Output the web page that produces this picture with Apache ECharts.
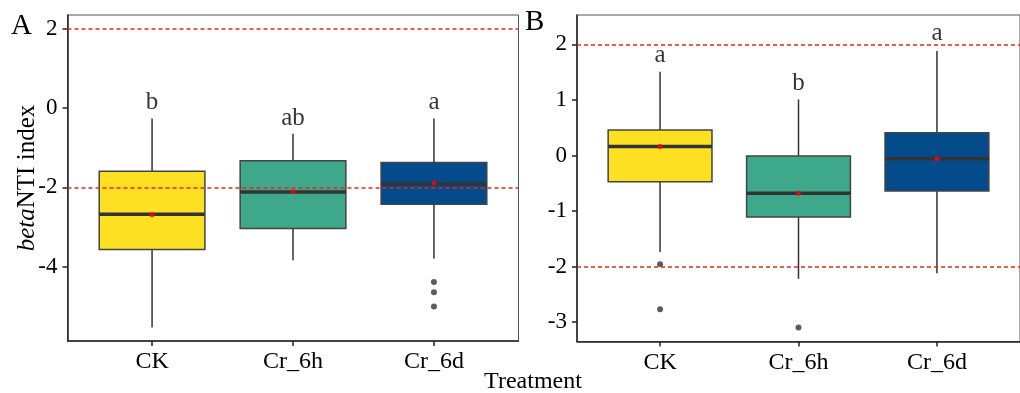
<!DOCTYPE html>
<html>
<head>
<meta charset="utf-8">
<script src="https://cdn.jsdelivr.net/npm/echarts@6/dist/echarts.min.js"></script>
<style>
  html, body { margin: 0; padding: 0; background: #fff; }
  #chart { width: 1020px; height: 393px; }
</style>
</head>
<body>
<div id="chart"></div>
<script>
// categories and tick values
var categories = ['CK', 'Cr_6h', 'Cr_6d'];
var boxColors = ['#FDE021', '#3DA88A', '#034B8A'];
var ticksA = [-4, -2, 0, 2];
var ticksB = [-3, -2, -1, 0, 1, 2];
var refLines = [2, -2];

// panel A: [low whisker, q1, median, q3, high whisker]
var statsA = [
    [-5.54, -3.57, -2.68, -1.595, -0.26],
    [-3.84, -3.04, -2.12, -1.33, -0.65],
    [-3.80, -2.43, -1.91, -1.375, -0.26]
];
var meansA = [-2.69, -2.11, -1.89];
var outliersA = [[], [], [-4.39, -4.65, -5.01]];
var lettersA = ['b', 'ab', 'a'];
var letterPosA = [0.13, -0.26, 0.15];

// panel B
var statsB = [
    [-1.74, -0.475, 0.16, 0.46, 1.51],
    [-2.22, -1.11, -0.68, -0.01, 1.01],
    [-2.12, -0.64, -0.06, 0.41, 1.88]
];
var meansB = [0.16, -0.68, -0.06];
var outliersB = [[-1.96, -2.77], [-3.10], []];
var lettersB = ['a', 'b', 'a'];
var letterPosB = [1.80, 1.30, 2.19];

var font = "'Liberation Serif', 'DejaVu Serif', serif";

function renderBox(params, api) {
    var x = api.value(0);
    var pLow = api.coord([x, api.value(1)]);
    var pQ1 = api.coord([x, api.value(2)]);
    var pMed = api.coord([x, api.value(3)]);
    var pQ3 = api.coord([x, api.value(4)]);
    var pHigh = api.coord([x, api.value(5)]);
    var half = api.size([0.75, 0])[0] / 2;
    var line = { stroke: '#333', lineWidth: 1.5 };
    return {
        type: 'group',
        children: [
            { type: 'line', shape: { x1: pHigh[0], y1: pHigh[1], x2: pQ3[0], y2: pQ3[1] }, style: line },
            { type: 'line', shape: { x1: pLow[0], y1: pLow[1], x2: pQ1[0], y2: pQ1[1] }, style: line },
            {
                type: 'rect',
                shape: { x: pQ3[0] - half, y: pQ3[1], width: half * 2, height: pQ1[1] - pQ3[1] },
                style: { fill: boxColors[params.dataIndex], stroke: '#444', lineWidth: 1.5 }
            },
            { type: 'line', shape: { x1: pMed[0] - half, y1: pMed[1], x2: pMed[0] + half, y2: pMed[1] },
              style: { stroke: '#333', lineWidth: 3.5 } }
        ]
    };
}

function panelSeries(idx, stats, means, outliers, letters, letterPos) {
    var outData = [];
    outliers.forEach(function (arr, i) {
        arr.forEach(function (v) { outData.push([i + 1, v]); });
    });
    return [
        {
            type: 'custom',
            xAxisIndex: idx, yAxisIndex: idx,
            renderItem: renderBox,
            encode: { x: 0, y: [1, 2, 3, 4, 5] },
            data: stats.map(function (s, i) { return [i + 1].concat(s); }),
            z: 2
        },
        {
            type: 'scatter',
            xAxisIndex: idx, yAxisIndex: idx,
            symbolSize: 6,
            itemStyle: { color: '#333' },
            data: outData,
            z: 3
        },
        {
            type: 'scatter',
            xAxisIndex: idx, yAxisIndex: idx,
            symbolSize: 5,
            itemStyle: { color: '#FF0000' },
            data: means.map(function (v, i) { return [i + 1, v]; }),
            z: 4
        },
        {
            type: 'scatter',
            xAxisIndex: idx, yAxisIndex: idx,
            symbolSize: 0,
            silent: true,
            label: {
                show: true,
                position: 'inside',
                fontFamily: font,
                fontSize: 25,
                color: '#000',
                formatter: function (p) { return letters[p.dataIndex]; }
            },
            data: letterPos.map(function (v, i) { return [i + 1, v]; }),
            markLine: {
                silent: true,
                symbol: 'none',
                label: { show: false },
                lineStyle: { color: '#E8261F', type: [4, 3], width: 1.5 },
                data: refLines.map(function (v) { return { yAxis: v }; })
            },
            z: 5
        }
    ];
}

function xAxisFor(idx) {
    return {
        type: 'value',
        gridIndex: idx,
        min: 0.4,
        max: 3.6,
        axisLine: { show: true, onZero: false, lineStyle: { color: '#222', width: 1.5 } },
        axisTick: { show: true, length: 5, customValues: [1, 2, 3], lineStyle: { color: '#222', width: 1.5 } },
        axisLabel: {
            customValues: [1, 2, 3],
            margin: 9,
            fontFamily: font,
            fontSize: 24,
            color: '#000',
            formatter: function (v) { return categories[Math.round(v) - 1]; }
        },
        splitLine: { show: false }
    };
}

function yAxisFor(idx, min, max, ticks) {
    return {
        type: 'value',
        gridIndex: idx,
        min: min,
        max: max,
        axisLine: { show: true, onZero: false, lineStyle: { color: '#222', width: 1.5 } },
        axisTick: { show: true, length: 5, customValues: ticks, lineStyle: { color: '#222', width: 1.5 } },
        axisLabel: {
            customValues: ticks,
            margin: 10,
            fontFamily: font,
            fontSize: 23,
            color: '#000'
        },
        splitLine: { show: false }
    };
}

var chart = echarts.init(document.getElementById('chart'));

var yA = yAxisFor(0, -5.88, 2.35, ticksA);
yA.name = '{it|beta}NTI index';
yA.nameLocation = 'middle';
yA.nameGap = 28;
yA.nameMoveOverlap = false;
yA.nameTextStyle = {
    fontFamily: font,
    fontSize: 25,
    color: '#000',
    rich: { it: { fontFamily: font, fontSize: 25, fontStyle: 'italic', color: '#000' } }
};

var option = {
    animation: false,
    grid: [
        { left: 67.5, top: 15, width: 451, height: 326, show: true, borderColor: '#555', borderWidth: 1 },
        { left: 577, top: 15, width: 451, height: 326.5, show: true, borderColor: '#555', borderWidth: 1 }
    ],
    xAxis: [xAxisFor(0), xAxisFor(1)],
    yAxis: [yA, yAxisFor(1, -3.35, 2.53, ticksB)],
    graphic: [
        { type: 'text', left: 11, top: 12, style: { text: 'A', font: '29px ' + font, fill: '#000' } },
        { type: 'text', left: 525, top: 8, style: { text: 'B', font: '29px ' + font, fill: '#000' } },
        { type: 'text', x: 533, y: 382, style: { text: 'Treatment', font: '24px ' + font, fill: '#000',
          textAlign: 'center', textVerticalAlign: 'middle' } }
    ],
    series: panelSeries(0, statsA, meansA, outliersA, lettersA, letterPosA)
        .concat(panelSeries(1, statsB, meansB, outliersB, lettersB, letterPosB))
};

chart.setOption(option);
</script>
</body>
</html>
